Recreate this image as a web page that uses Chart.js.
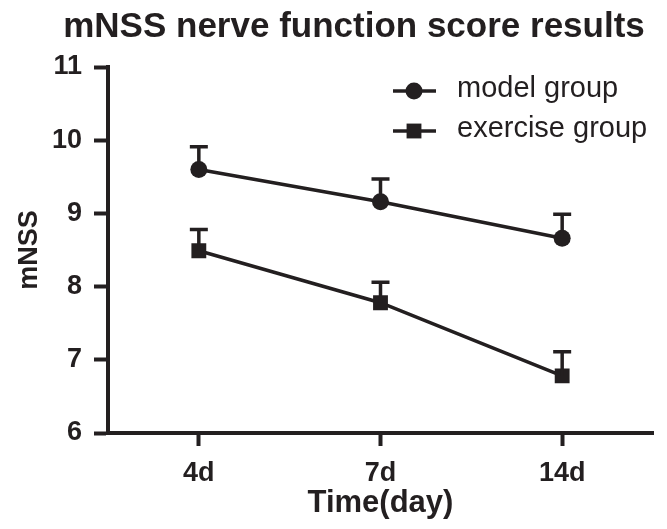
<!DOCTYPE html>
<html>
<head>
<meta charset="utf-8">
<script src="https://cdn.jsdelivr.net/npm/chart.js@4"></script>
<style>
  html, body { margin: 0; padding: 0; background: #fff; }
  #wrap { width: 667px; height: 529px; }
</style>
</head>
<body>
<div id="wrap"><canvas id="mnss"></canvas></div>
<script>
var categories = ['4d', '7d', '14d'];
var modelMean = [9.60, 9.16, 8.66];
var modelErr = [0.31, 0.31, 0.33];
var exerciseMean = [8.49, 7.78, 6.78];
var exerciseErr = [0.29, 0.28, 0.33];
var seriesNames = ['model group', 'exercise group'];

var ink = '#231f20';
var fontFam = '"Liberation Sans", Arial, sans-serif';

// upper error bars only
var errorBars = {
  id: 'errorBars',
  afterDatasetsDraw: function (chart) {
    var ctx = chart.ctx;
    var yScale = chart.scales.y;
    chart.data.datasets.forEach(function (ds, i) {
      var meta = chart.getDatasetMeta(i);
      meta.data.forEach(function (pt, j) {
        var top = yScale.getPixelForValue(ds.data[j] + ds.errors[j]);
        ctx.save();
        ctx.strokeStyle = ink;
        ctx.lineWidth = 3.5;
        ctx.beginPath();
        ctx.moveTo(pt.x, pt.y);
        ctx.lineTo(pt.x, top);
        ctx.moveTo(pt.x - 9, top);
        ctx.lineTo(pt.x + 9, top);
        ctx.stroke();
        ctx.restore();
      });
    });
  }
};

// title and the legend inside the plot
var extras = {
  id: 'extras',
  afterDraw: function (chart) {
    var ctx = chart.ctx;
    ctx.save();
    ctx.fillStyle = ink;
    ctx.font = 'bold 35px ' + fontFam;
    ctx.textAlign = 'center';
    ctx.textBaseline = 'alphabetic';
    ctx.fillText('mNSS nerve function score results', 354, 37);

    var rows = [91, 131];
    chart.data.datasets.forEach(function (ds, i) {
      var y = rows[i];
      ctx.strokeStyle = ink;
      ctx.lineWidth = 3.5;
      ctx.beginPath();
      ctx.moveTo(393, y);
      ctx.lineTo(436, y);
      ctx.stroke();
      Chart.helpers.drawPoint(ctx, {
        pointStyle: ds.pointStyle, radius: ds.pointRadius, borderWidth: 0
      }, 414, y);
      ctx.fillStyle = ink;
      ctx.font = '29px ' + fontFam;
      ctx.textAlign = 'left';
      ctx.textBaseline = 'middle';
      ctx.fillText(seriesNames[i], 457, y - 2);
    });
    ctx.restore();
  }
};

new Chart(document.getElementById('mnss'), {
  type: 'line',
  data: {
    labels: categories,
    datasets: [{
      label: seriesNames[0],
      data: modelMean,
      errors: modelErr,
      borderColor: ink,
      backgroundColor: ink,
      borderWidth: 3.5,
      pointStyle: 'circle',
      pointRadius: 8.5,
      pointBorderWidth: 0
    }, {
      label: seriesNames[1],
      data: exerciseMean,
      errors: exerciseErr,
      borderColor: ink,
      backgroundColor: ink,
      borderWidth: 3.5,
      pointStyle: 'rect',
      pointRadius: 10.5,
      pointBorderWidth: 0
    }]
  },
  options: {
    responsive: true,
    maintainAspectRatio: false,
    animation: false,
    layout: { padding: { left: 10, right: 14, top: 67, bottom: 0 } },
    plugins: {
      legend: { display: false },
      title: { display: false },
      tooltip: { enabled: false }
    },
    scales: {
      x: {
        offset: true,
        afterFit: function (s) { s.height = 96; },
        border: { display: true, color: ink, width: 4 },
        grid: { display: true, drawOnChartArea: false, drawTicks: true, tickLength: 13, tickWidth: 4, tickColor: ink, offset: false },
        ticks: { color: ink, padding: 11, font: { family: fontFam, size: 27, weight: 'bold' } },
        title: { display: true, text: 'Time(day)', color: ink, padding: { top: 4, bottom: 7 }, font: { family: fontFam, size: 31, weight: 'bold' } }
      },
      y: {
        min: 6,
        max: 11,
        afterFit: function (s) { s.width = 98; },
        border: { display: true, color: ink, width: 4 },
        grid: { display: true, drawOnChartArea: false, drawTicks: true, tickLength: 14, tickWidth: 4, tickColor: ink },
        ticks: { stepSize: 1, color: ink, padding: 12, font: { family: fontFam, size: 27, weight: 'bold' } },
        title: { display: true, text: 'mNSS', color: ink, padding: { top: 3, bottom: 4 }, font: { family: fontFam, size: 27, weight: 'bold' } }
      }
    }
  },
  plugins: [errorBars, extras]
});
</script>
</body>
</html>
